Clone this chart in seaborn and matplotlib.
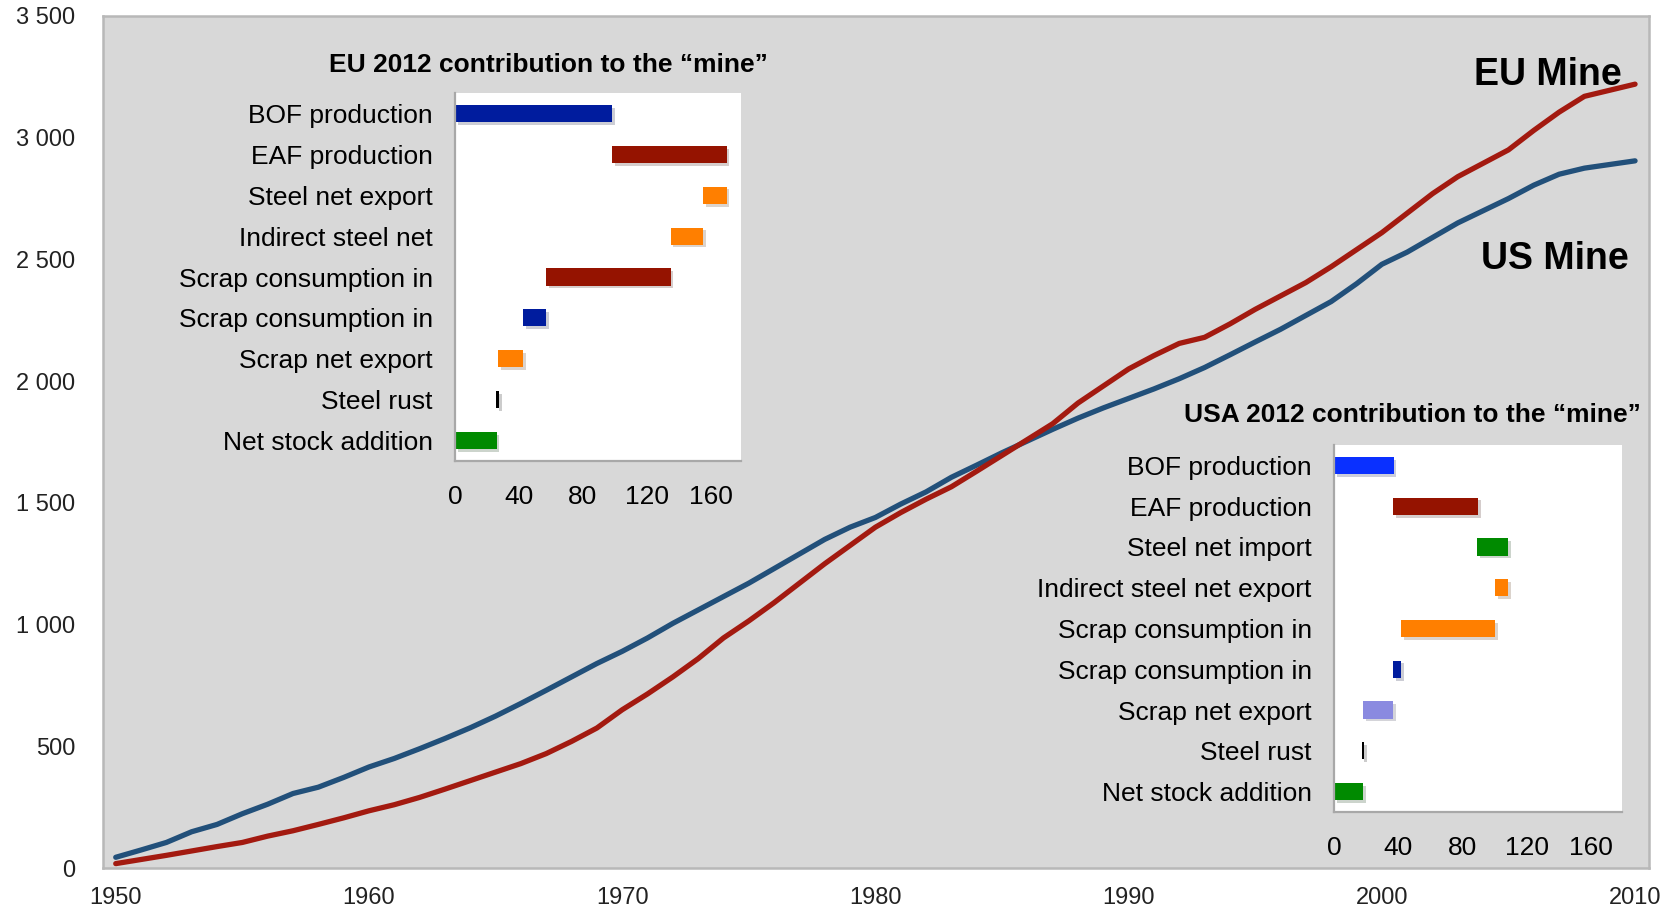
import matplotlib
matplotlib.use("Agg")
import matplotlib.pyplot as plt
import matplotlib.patheffects as pe
import seaborn as sns
import pandas as pd

# Cumulative "mine" (Mt) for EU and US, 1950-2010
years = list(range(1950, 2011))
eu_mine = [18, 35, 52, 70, 88, 105, 131, 153, 179, 206,
           235, 260, 290, 324, 359, 394, 429, 470, 520, 575,
           650, 715, 785, 860, 945, 1015, 1090, 1170, 1250, 1325,
           1400, 1460, 1515, 1566, 1630, 1695, 1760, 1825, 1910, 1980,
           2050, 2105, 2155, 2180, 2235, 2295, 2350, 2405, 2470, 2540,
           2610, 2690, 2770, 2840, 2895, 2950, 3030, 3105, 3170, 3195, 3220]
us_mine = [44, 74, 105, 149, 179, 223, 262, 306, 332, 372,
           415, 450, 490, 532, 576, 624, 676, 730, 785, 840,
           890, 945, 1005, 1060, 1115, 1170, 1230, 1290, 1350, 1400,
           1440, 1495, 1545, 1605, 1655, 1706, 1754, 1802, 1848, 1890,
           1929, 1968, 2010, 2056, 2108, 2161, 2213, 2270, 2327, 2400,
           2480, 2530, 2590, 2650, 2700, 2750, 2805, 2850, 2875, 2890, 2905]

y_ticks = [0, 500, 1000, 1500, 2000, 2500, 3000, 3500]
x_ticks = [1950, 1960, 1970, 1980, 1990, 2000, 2010]

# EU 2012 waterfall: label, start, end
eu_labels = ["BOF production", "EAF production", "Steel net export",
             "Indirect steel net", "Scrap consumption in", "Scrap consumption in",
             "Scrap net export", "Steel rust", "Net stock addition"]
eu_start = [0, 98.5, 155.5, 135, 57, 42.5, 27, 25.8, 0]
eu_end = [98.5, 170, 170, 155.5, 135, 57, 42.5, 27.4, 26]

# USA 2012 waterfall
us_labels = ["BOF production", "EAF production", "Steel net import",
             "Indirect steel net export", "Scrap consumption in", "Scrap consumption in",
             "Scrap net export", "Steel rust", "Net stock addition"]
us_start = [0, 36.5, 89, 100, 41.5, 36.5, 18, 17.2, 0]
us_end = [37, 89.5, 108, 108, 100, 41.8, 36.5, 18.6, 18]

inset_ticks = [0, 40, 80, 120, 160]

eu_colors = ["#001c9e", "#951300", "#ff7f00", "#ff7f00", "#951300",
             "#001c9e", "#ff7f00", "#000000", "#008a00"]
us_colors = ["#0a30ff", "#951300", "#008a00", "#ff7f00", "#ff7f00",
             "#001c9e", "#8a8ae0", "#000000", "#008a00"]

sns.set_theme(style="white")
plt.rcParams["font.family"] = ["Liberation Sans", "DejaVu Sans"]

fig = plt.figure(figsize=(16.68, 9.09), dpi=100, facecolor="white")
ax = fig.add_axes([0.0618, 0.0451, 0.9268, 0.9373])
ax.set_facecolor("#d8d8d8")

df = pd.DataFrame({"year": years, "EU": eu_mine, "US": us_mine})
sns.lineplot(data=df, x="year", y="US", ax=ax, color="#22507a", linewidth=3.8)
sns.lineplot(data=df, x="year", y="EU", ax=ax, color="#a31a10", linewidth=3.8)

ax.set_xlim(1949.55, 2010.55)
ax.set_ylim(0, 3500)
ax.set_xticks(x_ticks)
ax.set_xticks([y + 0.5 for y in range(1949, 2011)], minor=True)
ax.set_yticks(y_ticks)
ax.set_yticklabels([f"{v:,}".replace(",", " ") for v in y_ticks])
ax.tick_params(axis="x", which="major", length=0, labelsize=17, colors="#222222", pad=14)
ax.tick_params(axis="x", which="minor", length=6, width=1.2, color="#b8b8b8", direction="out")
ax.tick_params(axis="y", length=0, labelsize=17, colors="#222222", pad=20)
ax.set_xlabel("")
ax.set_ylabel("")
for s in ax.spines.values():
    s.set_color("#b8b8b8")
    s.set_linewidth(1.8)

ax.text(1622 / 1668, 1 - 85 / 909, "EU Mine", transform=fig.transFigure,
        ha="right", va="baseline", fontsize=27, fontweight="bold", color="black")
ax.text(1629 / 1668, 1 - 269 / 909, "US Mine", transform=fig.transFigure,
        ha="right", va="baseline", fontsize=27, fontweight="bold", color="black")


def draw_inset(rect, labels, start, end, colors, title, title_xy):
    iax = fig.add_axes(rect)
    iax.set_facecolor("white")
    widths = [e - s for s, e in zip(start, end)]
    bars = iax.barh(range(len(labels)), widths, left=start, height=0.42,
                    color=colors, edgecolor="none")
    for b in bars:
        b.set_path_effects([pe.SimplePatchShadow(offset=(2, -2), alpha=0.2), pe.Normal()])
    iax.set_ylim(len(labels) - 0.5, -0.5)
    iax.set_xlim(0, 179)
    iax.set_yticks(range(len(labels)))
    iax.set_yticklabels(labels)
    iax.set_xticks(inset_ticks)
    iax.tick_params(axis="y", length=0, labelsize=19, colors="black", pad=16)
    iax.tick_params(axis="x", length=7, width=1.3, color="#a0a0a0", direction="out",
                    labelsize=19, colors="black", pad=10)
    for side in ["top", "right"]:
        iax.spines[side].set_visible(False)
    for side in ["left", "bottom"]:
        iax.spines[side].set_color("#a8a8a8")
        iax.spines[side].set_linewidth(1.6)
    fig.text(title_xy[0], title_xy[1], title, ha="center", va="baseline",
             fontsize=19, fontweight="bold", color="black")
    return iax


draw_inset([455 / 1668, 1 - 461 / 909, 286 / 1668, 368 / 909],
           eu_labels, eu_start, eu_end, eu_colors,
           "EU 2012 contribution to the \u201cmine\u201d", (548 / 1668, 1 - 72 / 909))
draw_inset([1334 / 1668, 1 - 812 / 909, 288 / 1668, 367 / 909],
           us_labels, us_start, us_end, us_colors,
           "USA 2012 contribution to the \u201cmine\u201d", (1412 / 1668, 1 - 422 / 909))

fig.savefig("out.png", dpi=100, facecolor="white")
